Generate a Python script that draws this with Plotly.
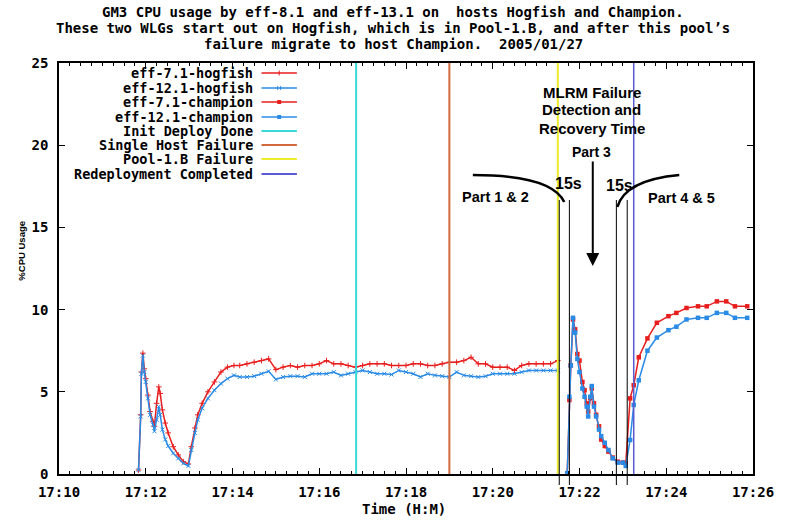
import plotly.graph_objects as go
import pandas as pd

BASE = pd.Timestamp("2005-01-27 17:10:00")

# ---- data (seconds after 17:10:00, %CPU) ----
hog_t = [110, 113, 114, 116, 118, 120, 123, 126, 130, 132, 135, 138, 140, 143, 147,
         151, 158, 165, 172, 179, 183, 188, 192, 198, 206, 215, 224, 233, 242,
         250, 260, 270, 280, 290, 300, 310, 320, 330, 340, 350, 360, 370, 380, 390,
         400, 410, 420, 430, 440, 450, 460, 470, 480, 490, 500, 510, 520, 530, 540,
         550, 560, 570, 580, 590, 600, 610, 620, 630, 640, 650, 660, 670, 680, 690]
hog_red = [0.24, 3.6, 6.2, 7.35, 6.4, 5.8, 4.8, 3.8, 3.2, 2.9, 4.3, 5.3, 4.9, 3.9, 3.1,
           2.5, 1.66, 1.16, 0.75, 0.61, 1.66, 2.8, 3.6, 4.3, 5.0, 5.6, 6.2, 6.5, 6.6,
           6.6, 6.7, 6.8, 6.9, 7.0, 6.35, 6.5, 6.6, 6.5, 6.6, 6.6, 6.7, 6.9, 6.7, 6.7,
           6.6, 6.5, 6.6, 6.7, 6.7, 6.7, 6.6, 6.6, 6.6, 6.7, 6.7, 6.6, 6.6, 6.7, 6.8,
           6.8, 6.9, 7.1, 6.7, 6.7, 6.5, 6.5, 6.5, 6.3, 6.6, 6.7, 6.7, 6.7, 6.7, 6.9]
hog_blue = [0.24, 3.5, 6.1, 7.2, 6.2, 5.6, 4.6, 3.6, 3.0, 2.6, 3.3, 4.1, 3.6, 2.7, 2.1,
            1.7, 1.26, 0.95, 0.65, 0.49, 1.46, 2.5, 3.3, 4.0, 4.6, 5.1, 5.5, 5.8, 6.0,
            5.9, 5.9, 5.95, 6.1, 6.25, 5.75, 5.9, 5.95, 5.95, 5.9, 6.1, 6.1, 6.1, 6.2, 6.0,
            6.1, 6.2, 6.3, 6.2, 6.1, 6.1, 6.05, 6.3, 6.2, 6.1, 5.9, 6.1, 6.0, 5.95, 5.9,
            6.2, 6.0, 5.95, 5.9, 5.95, 6.1, 6.1, 6.1, 6.1, 6.2, 6.3, 6.3, 6.3, 6.3, 6.3]

champ_t = [703, 706, 708, 711, 714, 717, 720, 724, 727, 730, 732, 735, 737, 740, 743,
           747, 750, 755, 760, 766, 773, 780, 784, 790, 795, 802, 814, 827, 843, 854,
           868, 884, 896, 910, 923, 935, 952]
champ_red = [0.04, 4.5, 6.6, 9.4, 8.8, 7.3, 6.9, 5.6, 5.1, 4.3, 3.8, 4.6, 5.2, 4.3, 3.6,
             2.9, 2.1, 1.7, 1.36, 1.0, 0.75, 0.7, 0.65, 4.6, 5.4, 7.1, 8.25, 9.2, 9.6, 9.8,
             10.1, 10.2, 10.2, 10.5, 10.5, 10.2, 10.2]
champ_blue = [0.04, 4.7, 6.6, 9.5, 8.6, 7.0, 6.2, 5.2, 4.7, 4.1, 3.5, 4.7, 5.35, 4.1, 3.5,
              2.7, 2.3, 1.9, 1.46, 0.95, 0.69, 0.69, 0.49, 2.07, 4.2, 5.7, 7.5, 8.3, 8.75, 8.96,
              9.4, 9.5, 9.5, 9.8, 9.8, 9.5, 9.5]

series_names = ["eff-7.1-hogfish", "eff-12.1-hogfish", "eff-7.1-champion", "eff-12.1-champion"]
event_names = ["Init Deploy Done", "Single Host Failure", "Pool-1.B Failure", "Redeployment Completed"]
event_t = [411, 540, 690, 795]
window_t = [692, 706, 771, 786]   # 15 s detection / recovery windows

title_lines = ["GM3 CPU usage by eff-8.1 and eff-13.1 on  hosts Hogfish and Champion.",
               "These two WLGs start out on Hogfish, which is in Pool-1.B, and after this pool\u2019s",
               "failure migrate to host Champion.  2005/01/27"]

RED = "#e81e1e"
BLUE = "#2a8be6"
event_colors = ["#3ad8d8", "#d2693c", "#ecec2a", "#5a5ad2"]

MONO = "DejaVu Sans Mono"
SANS = "Liberation Sans"


def ts(secs):
    return [(BASE + pd.Timedelta(seconds=s)).strftime("%Y-%m-%d %H:%M:%S") for s in secs]


# plot area in pixels
L, R, T, B = 59, 765, 63, 474
W, H = R - L, B - T


def px(x):
    return (x - L) / W


def py(y):
    return (B - y) / H


fig = go.Figure()
fig.add_trace(go.Scatter(x=ts(hog_t), y=hog_red, mode="lines+markers", name=series_names[0],
                         line=dict(color=RED, width=1.5),
                         marker=dict(symbol="cross-thin", size=4, line=dict(color=RED, width=1))))
fig.add_trace(go.Scatter(x=ts(hog_t), y=hog_blue, mode="lines+markers", name=series_names[1],
                         line=dict(color=BLUE, width=1.5),
                         marker=dict(symbol="x-thin", size=4, line=dict(color=BLUE, width=1))))
fig.add_trace(go.Scatter(x=ts(champ_t), y=champ_red, mode="lines+markers", name=series_names[2],
                         line=dict(color=RED, width=1.5),
                         marker=dict(symbol="square", size=4.5, color=RED)))
fig.add_trace(go.Scatter(x=ts(champ_t), y=champ_blue, mode="lines+markers", name=series_names[3],
                         line=dict(color=BLUE, width=1.5),
                         marker=dict(symbol="square", size=4.5, color=BLUE)))

shapes = []
# event vertical lines
for t, c in zip(event_t, event_colors):
    shapes.append(dict(type="line", xref="x", yref="y", x0=ts([t])[0], x1=ts([t])[0],
                       y0=0, y1=25, line=dict(color=c, width=2 if c != event_colors[3] else 1.5)))
# black window markers
for t in window_t:
    shapes.append(dict(type="line", xref="x", yref="paper", x0=ts([t])[0], x1=ts([t])[0],
                       y0=py(485), y1=py(200), line=dict(color="black", width=1)))
# arcs
shapes.append(dict(type="path", xref="paper", yref="paper",
                   path=f"M{px(480)},{py(175)} Q{px(560)},{py(175)} {px(573)},{py(202)}",
                   line=dict(color="black", width=2.5)))
shapes.append(dict(type="path", xref="paper", yref="paper",
                   path=f"M{px(627)},{py(207)} Q{px(635)},{py(180)} {px(690)},{py(175)}",
                   line=dict(color="black", width=2.5)))

annotations = []
# title
for i, (line, y) in enumerate(zip(title_lines, [12, 28, 44])):
    annotations.append(dict(text=line, xref="paper", yref="paper", x=px(399), y=py(y),
                            xanchor="center", yanchor="middle", showarrow=False,
                            font=dict(family=MONO, size=14, color="black", weight="bold")))

# legend
legend_rows = [73, 88, 102, 117, 131, 145, 159, 174]
legend_labels = series_names + event_names
legend_colors = [RED, BLUE, RED, BLUE] + event_colors
for i, (lab, c, y) in enumerate(zip(legend_labels, legend_colors, legend_rows)):
    annotations.append(dict(text=lab, xref="paper", yref="paper", x=px(257), y=py(y),
                            xanchor="right", yanchor="middle", showarrow=False, borderpad=0,
                            font=dict(family=MONO, size=13.5, color="black", weight="bold")))
    shapes.append(dict(type="line", xref="paper", yref="paper", x0=px(265), x1=px(301),
                       y0=py(y), y1=py(y), line=dict(color=c, width=1.5 if i < 4 else 2)))
    if i == 0:
        shapes.append(dict(type="line", xref="paper", yref="paper", x0=px(283), x1=px(283),
                           y0=py(y - 2.5), y1=py(y + 2.5), line=dict(color=c, width=1)))
    elif i == 1:
        for dx in (-1.5, 1.5):
            shapes.append(dict(type="line", xref="paper", yref="paper", x0=px(283 + dx),
                               x1=px(283 + dx), y0=py(y - 2), y1=py(y + 2),
                               line=dict(color=c, width=1)))
    elif i in (2, 3):
        shapes.append(dict(type="rect", xref="paper", yref="paper", x0=px(281), x1=px(285),
                           y0=py(y + 2), y1=py(y - 2), line=dict(width=0), fillcolor=c))

# annotation texts
ann_font = dict(family=SANS, color="black", weight="bold")
for txt, x, y, s in [("MLRM Failure", 601, 92, 15), ("Detection and", 601, 110, 15),
                     ("Recovery Time", 601, 128, 15), ("Part 3", 601, 152, 14),
                     ("15s", 577, 183, 16), ("15s", 629, 185, 16),
                     ("Part 1 & 2", 503, 197, 14.5), ("Part 4 & 5", 692, 198, 14.5)]:
    annotations.append(dict(text=txt, xref="paper", yref="paper", x=px(x), y=py(y),
                            xanchor="center", yanchor="middle", showarrow=False,
                            font=dict(size=s, **ann_font)))
# arrow
annotations.append(dict(text="", xref="paper", yref="paper", x=px(602), y=py(266),
                        ax=0, ay=-106, showarrow=True, arrowhead=2, arrowsize=1.3,
                        arrowwidth=2, arrowcolor="black", standoff=0))
# axis titles
annotations.append(dict(text="Time (H:M)", xref="paper", yref="paper", x=px(410), y=py(509),
                        xanchor="center", yanchor="middle", showarrow=False,
                        font=dict(family=MONO, size=14, color="black", weight="bold")))
annotations.append(dict(text="%CPU Usage", xref="paper", yref="paper", x=px(20), y=py(251),
                        xanchor="center", yanchor="middle", showarrow=False, textangle=-90,
                        font=dict(family=SANS, size=9.5, color="black", weight="bold")))

tickfont = dict(family=MONO, size=14, color="black", weight="bold")
fig.update_layout(
    width=786, height=520,
    margin=dict(l=L, r=786 - R, t=T, b=520 - B, pad=0),
    plot_bgcolor="white", paper_bgcolor="white",
    showlegend=False,
    shapes=shapes, annotations=annotations,
    xaxis=dict(type="date", range=ts([0, 960]), dtick=120000, tick0=ts([0])[0],
               tickformat="%H:%M", ticks="inside", ticklen=6, tickwidth=1, tickcolor="black",
               minor=dict(dtick=15000, ticks="inside", ticklen=3, tickcolor="black", tickwidth=1),
               showline=True, linecolor="black", linewidth=1.5, mirror="ticks",
               showgrid=False, zeroline=False, tickfont=tickfont, ticklabelstandoff=4,
               ticklabeloverflow="allow"),
    yaxis=dict(range=[0, 25], dtick=5, ticks="inside", ticklen=6, tickwidth=1, tickcolor="black",
               showline=True, linecolor="black", linewidth=1.5, mirror="ticks",
               showgrid=False, zeroline=False, tickfont=tickfont, ticklabelstandoff=6),
)

fig.write_html("out.html", config={"displayModeBar": False},
               post_script="document.body.style.margin='0';document.body.style.overflow='hidden';")
